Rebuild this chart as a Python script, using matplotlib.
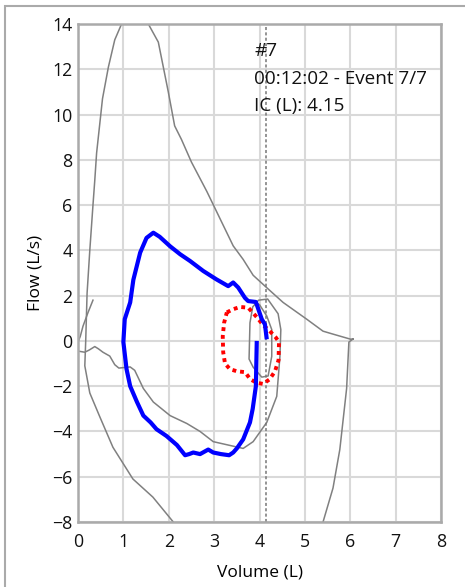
import matplotlib
matplotlib.use("Agg")
import matplotlib.pyplot as plt
from matplotlib.patches import Rectangle

plt.rcParams['font.family'] = ['Open Sans', 'DejaVu Sans']

# ---- data ----
xticks = [0, 1, 2, 3, 4, 5, 6, 7, 8]
yticks = [-8, -6, -4, -2, 0, 2, 4, 6, 8, 10, 12, 14]

# big gray (max) loop
maxloop_x = [6.06, 5.97, 5.92, 5.77, 5.62, 5.40, 5.25, 3.7, 2.0, 2.10, 1.65, 1.21, 0.77, 0.48, 0.26, 0.15, 0.17,
             0.20, 0.26, 0.33, 0.37, 0.41, 0.54, 0.67, 0.81, 0.96, 1.25, 1.55, 1.77, 1.88, 1.99, 2.13,
             2.28, 2.50, 2.84, 3.13, 3.42, 3.64, 3.86, 4.16, 4.52, 5.04, 5.40, 5.62, 6.00, 6.06]
maxloop_y = [0.08, -0.05, -2.1, -4.8, -6.5, -8.0, -9.0, -10.0, -8.6, -8.0, -6.9, -6.1, -4.7, -3.35, -2.3, -1.1, 0.0,
             2.1, 4.0, 6.0, 7.1, 8.3, 10.7, 12.1, 13.3, 14.0, 14.8, 14.0, 13.2, 12.1, 11.0, 9.5,
             8.9, 7.9, 6.6, 5.4, 4.2, 3.6, 2.9, 2.35, 1.7, 0.96, 0.43, 0.3, 0.08, 0.08]

# gray tidal trace
tidal_x = [0.33, 0.22, 0.11, 0.05, -0.03, 0.0, 0.15, 0.25, 0.37, 0.45, 0.55, 0.70, 0.81, 0.90, 1.15, 1.25,
           1.44, 1.66, 2.03, 2.40, 2.69, 2.98, 3.42, 3.64, 3.86, 4.16, 4.38, 4.45, 4.47, 4.41, 4.18,
           3.98, 3.85, 3.79, 3.77, 3.86, 4.05, 4.19, 4.27, 4.27, 4.16, 4.00, 3.92]
tidal_y = [1.8, 1.25, 0.65, 0.2, -0.2, -0.45, -0.5, -0.4, -0.25, -0.35, -0.5, -0.67, -1.05, -1.2, -1.15, -1.3,
           -2.1, -2.7, -3.3, -3.65, -4.0, -4.45, -4.65, -4.75, -4.45, -3.6, -2.45, -0.7, 0.5, 1.2, 1.85,
           1.8, 1.5, 0.8, -0.8, -1.16, -1.6, -1.55, -0.68, 0.5, 1.1, 1.6, 1.7]

# blue loop
blue_x = [3.94, 3.93, 3.92, 3.85, 3.79, 3.64, 3.50, 3.42, 3.33, 3.15, 2.98, 2.87, 2.69, 2.54, 2.45, 2.36,
          2.18, 1.95, 1.73, 1.60, 1.44, 1.30, 1.15, 1.07, 1.00, 1.03, 1.15, 1.22, 1.37, 1.51, 1.66,
          1.80, 2.03, 2.25, 2.47, 2.76, 3.05, 3.31, 3.42, 3.53, 3.68, 3.75, 3.92, 4.05, 4.12, 4.16]
blue_y = [0.0, -1.0, -2.0, -3.0, -3.6, -4.35, -4.75, -4.93, -5.05, -5.0, -4.93, -4.8, -5.0, -4.93, -5.0, -5.05,
          -4.6, -4.2, -3.9, -3.6, -3.3, -2.7, -2.0, -1.25, -0.05, 0.96, 1.7, 2.7, 3.9, 4.55, 4.78,
          4.6, 4.18, 3.83, 3.53, 3.09, 2.72, 2.42, 2.58, 2.36, 1.9, 1.76, 1.72, 0.96, 0.73, 0.07]

# red dotted loop
red_x = [3.28, 3.42, 3.57, 3.75, 3.94, 4.08, 4.22, 4.36, 4.43, 4.42, 4.34, 4.22, 4.08, 3.94, 3.80,
         3.68, 3.50, 3.35, 3.24, 3.20, 3.19, 3.22, 3.28]
red_y = [1.26, 1.40, 1.50, 1.47, 1.05, 0.70, 0.45, 0.15, -0.05, -0.85, -1.35, -1.70, -1.90, -1.85, -1.70,
         -1.38, -1.34, -1.25, -1.0, -0.5, 0.2, 0.8, 1.26]

ic_value = 4.15
annot_lines = ["#7", "00:12:02 - Event 7/7", "IC (L): 4.15"]

# ---- figure ----
W, H = 465, 587
fig = plt.figure(figsize=(W / 100, H / 100), dpi=100)
fig.patches.append(Rectangle((4.5 / W, -0.1), 1.2, (H - 5.5) / H + 0.1, transform=fig.transFigure,
                             fill=False, edgecolor='#aaaaaa', linewidth=1.5, zorder=0))

ax = fig.add_axes([78 / W, (H - 522) / H, (441 - 78) / W, (522 - 24) / H])
ax.set_xlim(0, 8)
ax.set_ylim(-8, 14)
ax.set_xticks(xticks)
ax.set_yticks(yticks)
ax.grid(True, color='#d9d9d9', linewidth=1.5)
ax.set_axisbelow(True)
for s in ax.spines.values():
    s.set_color('#aaaaaa')
    s.set_linewidth(1.8)
ax.tick_params(length=0, labelsize=12.8, colors='#111111')
ax.tick_params(axis='x', pad=8)
ax.tick_params(axis='y', pad=4)

ax.plot(maxloop_x, maxloop_y, color='#808080', linewidth=1.1)
ax.plot(tidal_x, tidal_y, color='#808080', linewidth=1.1)
ax.axvline(ic_value, color='#777777', linewidth=1.1, dashes=(2.0, 1.5))
ax.plot(red_x, red_y, color='#ff0000', linewidth=2.8, dashes=(1, 1.0), dash_capstyle='butt')
ax.plot(blue_x, blue_y, color='#0000ff', linewidth=3.0, solid_joinstyle='round', solid_capstyle='butt')

ybase = [12.59, 11.34, 10.16]
for t, yb in zip(annot_lines, ybase):
    ax.text(3.88, yb, t, fontsize=13.6, va='baseline', ha='left', color='#111111')

ax.set_xlabel('Volume (L)', fontsize=12.5)
ax.set_ylabel('Flow (L/s)', fontsize=12.5)
ax.xaxis.set_label_coords(0.5, -0.086)
ax.yaxis.set_label_coords(-0.094, 0.5)

fig.savefig('out.png', dpi=100)
